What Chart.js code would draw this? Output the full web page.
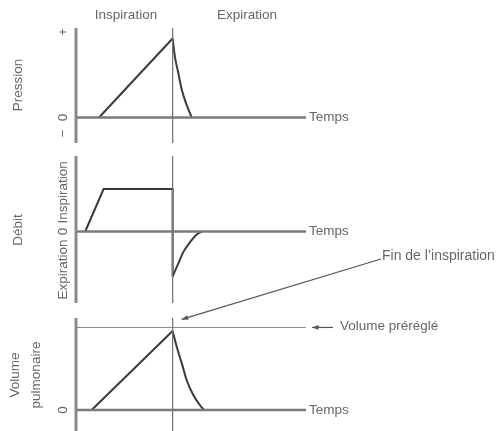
<!DOCTYPE html>
<html>
<head>
<meta charset="utf-8">
<script src="https://cdn.jsdelivr.net/npm/chart.js@4/dist/chart.umd.min.js"></script>
<style>
  html, body { margin: 0; padding: 0; background: #fff; }
  #wrap { width: 498px; height: 431px; position: relative; }
</style>
</head>
<body>
<div id="wrap"><canvas id="courbes" width="498" height="431"></canvas></div>
<script>
// temps en unités arbitraires, fin de l'inspiration à 4.2
const finInspiration = 4.2;
const finTemps = 10;

// Pression
const pressionInspT = [1.0, 4.2];
const pressionInspV = [0, 1.0];
const pressionExpT = [4.2, 4.3, 4.45, 4.6, 4.81, 5.03];
const pressionExpV = [1.0, 0.77, 0.56, 0.35, 0.16, 0];

// Débit
const debitInspT = [0.4, 1.2, 4.2, 4.2];
const debitInspV = [0, 1.0, 1.0, -1.06];
const debitExpT = [4.2, 4.45, 4.67, 4.96, 5.25, 5.47];
const debitExpV = [-1.06, -0.75, -0.48, -0.25, -0.07, 0];

// Volume pulmonaire
const volumeInspT = [0.68, 4.2];
const volumeInspV = [0, 1.0];
const volumeExpT = [4.2, 4.38, 4.6, 4.81, 5.1, 5.39, 5.57];
const volumeExpV = [1.0, 0.8, 0.59, 0.38, 0.19, 0.06, 0];
const volumePreregle = 1.045;

// étiquettes des axes
const pressionTickVals = [1.08, 0, -0.2];
const pressionTickLabels = ['+', '0', '\u2212'];
const volumeTickVals = [0];
const volumeTickLabels = ['0'];

// géométrie (pixels) : origine des temps et échelle de chaque panneau
const W = 498, H = 431;
const x0 = 76, pxParT = 23;
const panneaux = {
  yP: { zero: 117.5, unite: 79, haut: 28, bas: 143 },
  yD: { zero: 231.5, unite: 42.5, haut: 156, bas: 303 },
  yV: { zero: 410, unite: 79, haut: 318, bas: 431 }
};

const zip = (t, v) => t.map((x, i) => ({ x: x, y: v[i] }));
const valeur = (p, px) => (p.zero - px) / p.unite;

function ligne(data, axe, opts) {
  return Object.assign({
    data: data, yAxisID: axe, showLine: true, pointRadius: 0,
    borderColor: '#3a3a3a', borderWidth: 2, fill: false, tension: 0
  }, opts || {});
}

const datasets = [];
Object.keys(panneaux).forEach(axe => {
  const p = panneaux[axe];
  // axe vertical
  datasets.push(ligne([{ x: 0, y: valeur(p, p.haut) }, { x: 0, y: valeur(p, p.bas) }], axe,
    { borderColor: '#8a8a8a', borderWidth: 3 }));
  // ligne de fin d'inspiration
  datasets.push(ligne([{ x: finInspiration, y: valeur(p, p.haut) }, { x: finInspiration, y: valeur(p, p.bas) }], axe,
    { borderColor: '#777', borderWidth: 1 }));
  // ligne du temps
  datasets.push(ligne([{ x: 0, y: 0 }, { x: finTemps, y: 0 }], axe,
    { borderColor: '#7a7a7a', borderWidth: 2.5 }));
});
datasets.push(ligne([{ x: 0, y: volumePreregle }, { x: finTemps, y: volumePreregle }], 'yV',
  { borderColor: '#888', borderWidth: 1 }));

const courbe = { cubicInterpolationMode: 'monotone' };
datasets.push(ligne(zip(pressionInspT, pressionInspV), 'yP'));
datasets.push(ligne(zip(pressionExpT, pressionExpV), 'yP', courbe));
datasets.push(ligne(zip(debitInspT, debitInspV), 'yD'));
datasets.push(ligne(zip(debitExpT, debitExpV), 'yD', courbe));
datasets.push(ligne(zip(volumeInspT, volumeInspV), 'yV'));
datasets.push(ligne(zip(volumeExpT, volumeExpV), 'yV', courbe));

const scales = {
  x: { type: 'linear', display: false, min: -x0 / pxParT, max: (W - x0) / pxParT }
};
Object.keys(panneaux).forEach(axe => {
  const p = panneaux[axe];
  scales[axe] = { type: 'linear', display: false, min: -(H - p.zero) / p.unite, max: p.zero / p.unite };
});

const police = '13.5px "Liberation Sans", Arial, sans-serif';

function texteVertical(ctx, txt, x, y, align) {
  ctx.save();
  ctx.translate(x, y);
  ctx.rotate(-Math.PI / 2);
  ctx.textAlign = align || 'center';
  ctx.textBaseline = 'middle';
  ctx.fillText(txt, 0, 0);
  ctx.restore();
}

function fleche(ctx, x1, y1, x2, y2) {
  const a = Math.atan2(y2 - y1, x2 - x1);
  ctx.beginPath();
  ctx.moveTo(x1, y1);
  ctx.lineTo(x2, y2);
  ctx.stroke();
  ctx.beginPath();
  ctx.moveTo(x2, y2);
  ctx.lineTo(x2 - 7 * Math.cos(a - 0.35), y2 - 7 * Math.sin(a - 0.35));
  ctx.lineTo(x2 - 7 * Math.cos(a + 0.35), y2 - 7 * Math.sin(a + 0.35));
  ctx.closePath();
  ctx.fill();
}

const legendes = {
  id: 'legendes',
  afterDraw(chart) {
    const ctx = chart.ctx;
    const sx = chart.scales.x;
    const yP = chart.scales.yP, yD = chart.scales.yD, yV = chart.scales.yV;
    ctx.save();
    ctx.font = police;
    ctx.fillStyle = '#666';
    ctx.textBaseline = 'middle';

    // en-têtes
    ctx.textAlign = 'center';
    ctx.fillText('Inspiration', 126, 15);
    ctx.fillText('Expiration', 247, 15);

    // "Temps" au bout de chaque ligne du temps
    ctx.textAlign = 'left';
    const xt = sx.getPixelForValue(finTemps) + 3;
    [yP, yD, yV].forEach(s => ctx.fillText('Temps', xt, s.getPixelForValue(0)));

    // titres des axes
    texteVertical(ctx, 'Pression', 18, 85);
    texteVertical(ctx, 'Débit', 18, 230);
    texteVertical(ctx, 'Volume', 15, 375);
    texteVertical(ctx, 'pulmonaire', 36, 375);

    // graduations
    const xg = sx.getPixelForValue(0) - 13;
    pressionTickVals.forEach((v, i) => texteVertical(ctx, pressionTickLabels[i], xg, yP.getPixelForValue(v)));
    volumeTickVals.forEach((v, i) => texteVertical(ctx, volumeTickLabels[i], xg, yV.getPixelForValue(v)));
    const yd0 = yD.getPixelForValue(0);
    texteVertical(ctx, '0', xg, yd0);
    ctx.save();
    ctx.translate(xg, yd0);
    ctx.rotate(-Math.PI / 2);
    ctx.textBaseline = 'middle';
    ctx.textAlign = 'left';
    ctx.fillText('Inspiration', 8, 0);
    ctx.textAlign = 'right';
    ctx.fillText('Expiration', -8, 0);
    ctx.restore();

    // volume préréglé
    ctx.strokeStyle = '#555';
    ctx.fillStyle = '#555';
    ctx.lineWidth = 1.2;
    const yPre = yV.getPixelForValue(volumePreregle);
    fleche(ctx, 333, yPre, 312, yPre);
    ctx.fillStyle = '#666';
    ctx.textAlign = 'left';
    ctx.fillText('Volume préréglé', 340, yPre - 1);

    // fin de l'inspiration
    ctx.fillStyle = '#555';
    fleche(ctx, 381, 259, sx.getPixelForValue(finInspiration) + 9, yPre - 8);
    ctx.fillStyle = '#666';
    ctx.font = '14px "Liberation Sans", Arial, sans-serif';
    ctx.fillText('Fin de l\u2019inspiration', 382, 256);
    ctx.restore();
  }
};

new Chart(document.getElementById('courbes'), {
  type: 'scatter',
  data: { datasets: datasets },
  options: {
    responsive: false,
    animation: false,
    layout: { padding: 0 },
    plugins: { legend: { display: false }, tooltip: { enabled: false } },
    scales: scales
  },
  plugins: [legendes]
});
</script>
</body>
</html>
